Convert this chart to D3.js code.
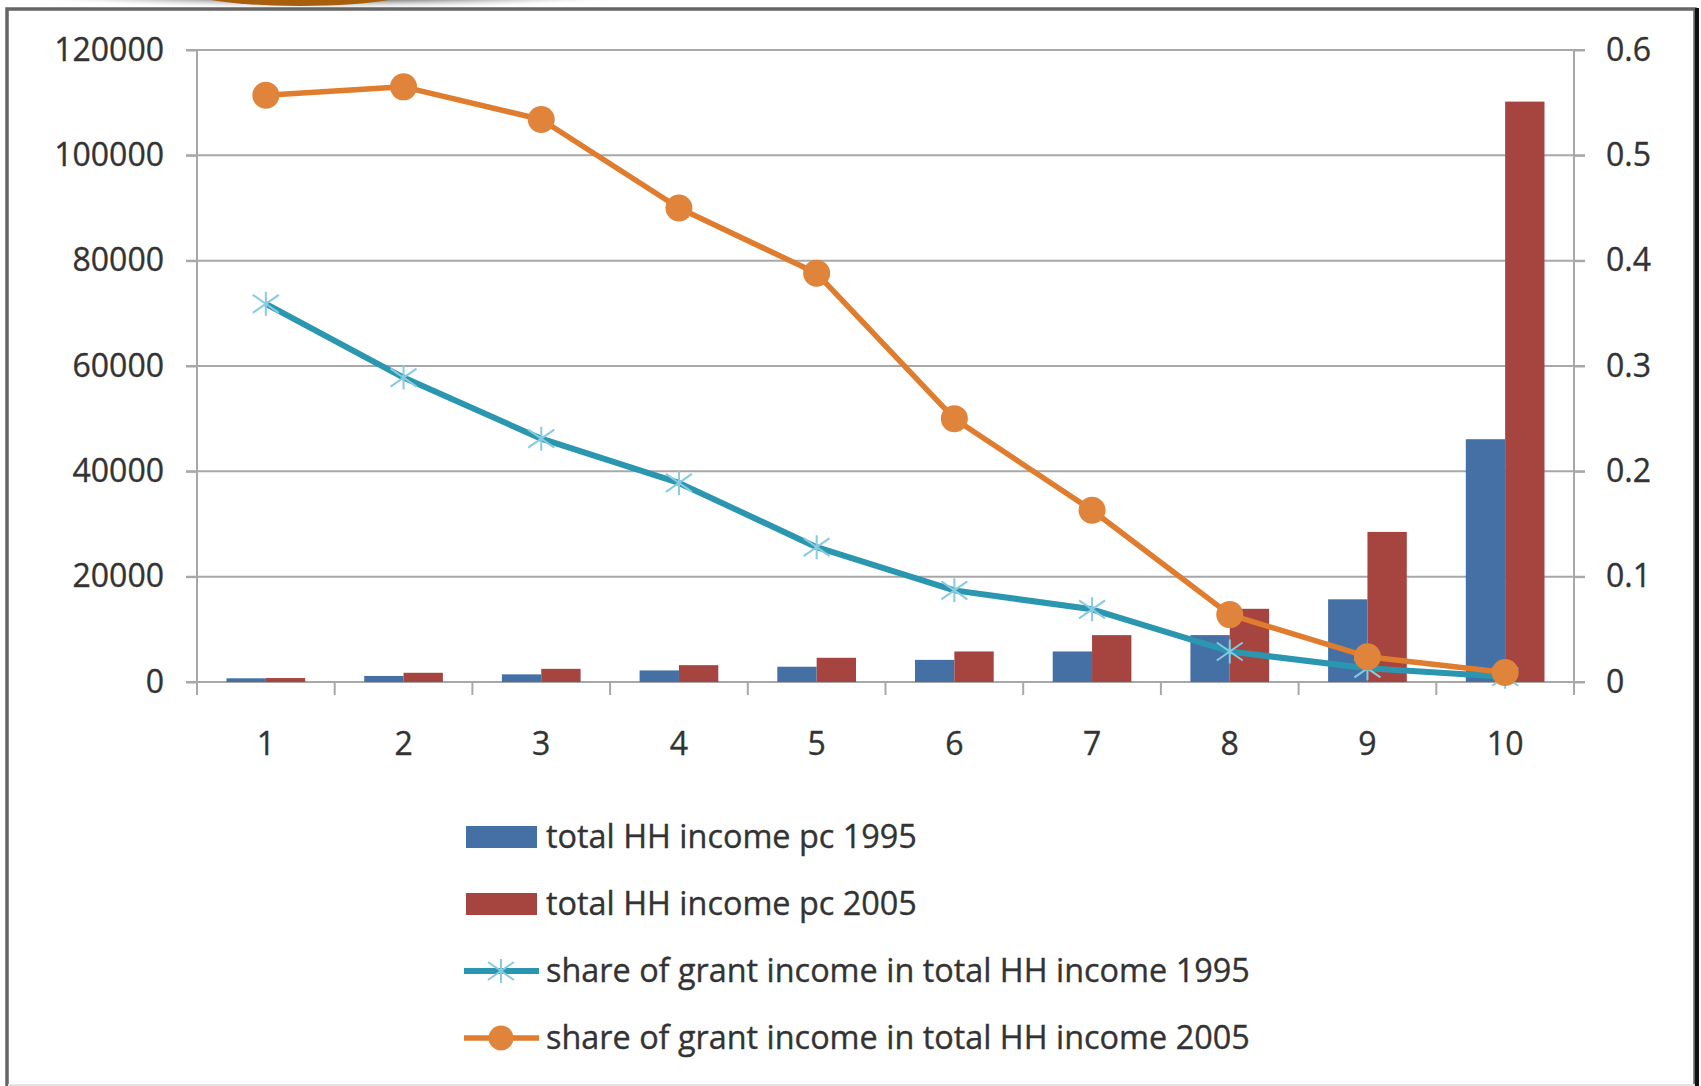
<!DOCTYPE html>
<html>
<head>
<meta charset="utf-8">
<script src="https://cdn.jsdelivr.net/npm/d3@7"></script>
<style>
  html, body { margin: 0; padding: 0; background: #fff; }
  svg { display: block; }
  text { font-family: 'Open Sans', sans-serif; fill: #333; stroke: #333; stroke-width: 0.35px; }
</style>
</head>
<body>
<script>
const categories = ['1', '2', '3', '4', '5', '6', '7', '8', '9', '10'];

// bars, left axis
const income1995 = [700, 1150, 1450, 2200, 2900, 4200, 5800, 8900, 15700, 46100];
const income2005 = [750, 1750, 2500, 3200, 4600, 5800, 8900, 13900, 28500, 110200];

// lines, right axis
const share1995 = [0.359, 0.289, 0.231, 0.189, 0.128, 0.087, 0.069, 0.029, 0.013, 0.005];
const share2005 = [0.557, 0.565, 0.534, 0.450, 0.388, 0.250, 0.163, 0.064, 0.024, 0.009];

const leftTicks = [0, 20000, 40000, 60000, 80000, 100000, 120000];
const rightTicks = [0, 0.1, 0.2, 0.3, 0.4, 0.5, 0.6];
const rightTickLabels = ['0', '0.1', '0.2', '0.3', '0.4', '0.5', '0.6'];

const legendLabels = [
  'total HH income pc 1995',
  'total HH income pc 2005',
  'share of grant income in total HH income 1995',
  'share of grant income in total HH income 2005'
];

const width = 1701;
const height = 1086;

const colors = {
  bar1995: '#4470a6',
  bar2005: '#a6443f',
  line1995: '#2b96b0',
  star1995: '#86cbe0',
  line2005: '#df7c2e',
  dot2005: '#e0833b',
  grid: '#a8a8a8'
};

const svg = d3.select('body')
  .append('svg')
  .attr('width', width)
  .attr('height', height);

const plot = { left: 197, right: 1574, top: 50, bottom: 682 };

drawDecoration();
drawFrame();
drawChart();
drawLegend();

function drawDecoration() {
  const defs = svg.append('defs');
  const grad = defs.append('radialGradient').attr('id', 'shade');
  grad.append('stop').attr('offset', '0%').attr('stop-color', '#4a4a4a');
  grad.append('stop').attr('offset', '70%').attr('stop-color', '#8a8a8a');
  grad.append('stop').attr('offset', '100%').attr('stop-color', '#ffffff').attr('stop-opacity', 0);

  svg.append('ellipse')
    .attr('cx', 330).attr('cy', -22)
    .attr('rx', 420).attr('ry', 32)
    .attr('fill', 'url(#shade)');

  svg.append('ellipse')
    .attr('cx', 300).attr('cy', -18)
    .attr('rx', 135).attr('ry', 24)
    .attr('fill', '#a85f0c');
}

function drawFrame() {
  svg.append('rect')
    .attr('x', 7).attr('y', 9)
    .attr('width', 1688).attr('height', 1090)
    .attr('fill', '#fff')
    .attr('stroke', '#666')
    .attr('stroke-width', 3.5);

  svg.append('line')
    .attr('x1', 1697).attr('x2', 1697)
    .attr('y1', 8).attr('y2', height)
    .attr('stroke', '#111')
    .attr('stroke-width', 4);

  svg.append('line')
    .attr('x1', 8).attr('x2', 1695)
    .attr('y1', 1085).attr('y2', 1085)
    .attr('stroke', '#e4e4e4')
    .attr('stroke-width', 2);
}

function drawChart() {
  const x = d3.scaleBand()
    .domain(categories)
    .range([plot.left, plot.right]);

  const inner = d3.scaleBand()
    .domain(['1995', '2005'])
    .range([0, x.bandwidth()])
    .paddingOuter(0.75);

  const yLeft = d3.scaleLinear()
    .domain([0, 120000])
    .range([plot.bottom, plot.top]);

  const yRight = d3.scaleLinear()
    .domain([0, 0.6])
    .range([plot.bottom, plot.top]);

  // gridlines, a little past both axes like the ticks
  svg.append('g')
    .selectAll('line')
    .data(leftTicks)
    .enter()
    .append('line')
    .attr('x1', plot.left - 11)
    .attr('x2', plot.right + 11)
    .attr('y1', (d) => yLeft(d))
    .attr('y2', (d) => yLeft(d))
    .attr('stroke', colors.grid)
    .attr('stroke-width', 2);

  const leftAxis = svg.append('g')
    .attr('transform', `translate(${plot.left},0)`)
    .call(d3.axisLeft(yLeft)
      .tickValues(leftTicks)
      .tickFormat(d3.format('d'))
      .tickSize(11)
      .tickPadding(22));

  const rightAxis = svg.append('g')
    .attr('transform', `translate(${plot.right},0)`)
    .call(d3.axisRight(yRight)
      .tickValues(rightTicks)
      .tickFormat((d, i) => rightTickLabels[i])
      .tickSize(11)
      .tickPadding(21));

  [leftAxis, rightAxis].forEach((axis) => {
    axis.select('.domain')
      .attr('d', `M0,${plot.bottom + 13}V${plot.top}`)
      .attr('stroke', colors.grid)
      .attr('stroke-width', 2);
    axis.selectAll('.tick line')
      .attr('stroke', colors.grid)
      .attr('stroke-width', 2);
    axis.selectAll('text')
      .attr('fill', '#333')
      .style('font-family', "'Open Sans', sans-serif")
      .style('font-size', '32px');
  });

  // category ticks at band boundaries
  svg.append('g')
    .selectAll('line')
    .data(categories.slice(1))
    .enter()
    .append('line')
    .attr('x1', (d) => x(d))
    .attr('x2', (d) => x(d))
    .attr('y1', plot.bottom)
    .attr('y2', plot.bottom + 13)
    .attr('stroke', colors.grid)
    .attr('stroke-width', 2);

  svg.append('g')
    .selectAll('text')
    .data(categories)
    .enter()
    .append('text')
    .attr('x', (d) => x(d) + x.bandwidth() / 2)
    .attr('y', 755)
    .attr('text-anchor', 'middle')
    .style('font-size', '32px')
    .text((d) => d);

  const bars = svg.append('g');

  bars.selectAll('rect.b1995')
    .data(income1995)
    .enter()
    .append('rect')
    .attr('x', (d, i) => x(categories[i]) + inner('1995'))
    .attr('y', (d) => yLeft(d))
    .attr('width', inner.bandwidth())
    .attr('height', (d) => yLeft(0) - yLeft(d))
    .attr('fill', colors.bar1995);

  bars.selectAll('rect.b2005')
    .data(income2005)
    .enter()
    .append('rect')
    .attr('x', (d, i) => x(categories[i]) + inner('2005'))
    .attr('y', (d) => yLeft(d))
    .attr('width', inner.bandwidth())
    .attr('height', (d) => yLeft(0) - yLeft(d))
    .attr('fill', colors.bar2005);

  const cx = (i) => x(categories[i]) + x.bandwidth() / 2;

  const line = d3.line()
    .x((d, i) => cx(i))
    .y((d) => yRight(d));

  svg.append('path')
    .datum(share1995)
    .attr('d', line)
    .attr('fill', 'none')
    .attr('stroke', colors.line1995)
    .attr('stroke-width', 6)
    .attr('stroke-linejoin', 'round');

  svg.append('g')
    .selectAll('path')
    .data(share1995)
    .enter()
    .append('path')
    .attr('transform', (d, i) => `translate(${cx(i)},${yRight(d)})`)
    .attr('d', starPath)
    .attr('fill', 'none')
    .attr('stroke', colors.star1995)
    .attr('stroke-width', 2);

  svg.append('path')
    .datum(share2005)
    .attr('d', line)
    .attr('fill', 'none')
    .attr('stroke', colors.line2005)
    .attr('stroke-width', 5.5)
    .attr('stroke-linejoin', 'round');

  svg.append('g')
    .selectAll('circle')
    .data(share2005)
    .enter()
    .append('circle')
    .attr('cx', (d, i) => cx(i))
    .attr('cy', (d) => yRight(d))
    .attr('r', 13.5)
    .attr('fill', colors.dot2005);
}

function starPath() {
  return 'M0,-12V12M-13,-9L13,9M-13,9L13,-9';
}

function drawLegend() {
  const rowY = [837, 904, 971, 1038];
  const swatchX = 466;
  const textX = 546;

  const legend = svg.append('g');

  legend.append('rect')
    .attr('x', swatchX).attr('y', rowY[0] - 11)
    .attr('width', 71).attr('height', 22)
    .attr('fill', colors.bar1995);

  legend.append('rect')
    .attr('x', swatchX).attr('y', rowY[1] - 11)
    .attr('width', 71).attr('height', 22)
    .attr('fill', colors.bar2005);

  legend.append('line')
    .attr('x1', swatchX - 2).attr('x2', swatchX + 73)
    .attr('y1', rowY[2]).attr('y2', rowY[2])
    .attr('stroke', colors.line1995)
    .attr('stroke-width', 6);

  legend.append('path')
    .attr('transform', `translate(${swatchX + 35},${rowY[2]})`)
    .attr('d', starPath)
    .attr('fill', 'none')
    .attr('stroke', colors.star1995)
    .attr('stroke-width', 2);

  legend.append('line')
    .attr('x1', swatchX - 2).attr('x2', swatchX + 73)
    .attr('y1', rowY[3]).attr('y2', rowY[3])
    .attr('stroke', colors.line2005)
    .attr('stroke-width', 5.5);

  legend.append('circle')
    .attr('cx', swatchX + 35).attr('cy', rowY[3])
    .attr('r', 12.5)
    .attr('fill', colors.dot2005);

  legend.selectAll('text')
    .data(legendLabels)
    .enter()
    .append('text')
    .attr('x', textX)
    .attr('y', (d, i) => rowY[i])
    .attr('dy', '0.35em')
    .style('font-size', '32.4px')
    .text((d) => d);
}
</script>
</body>
</html>
